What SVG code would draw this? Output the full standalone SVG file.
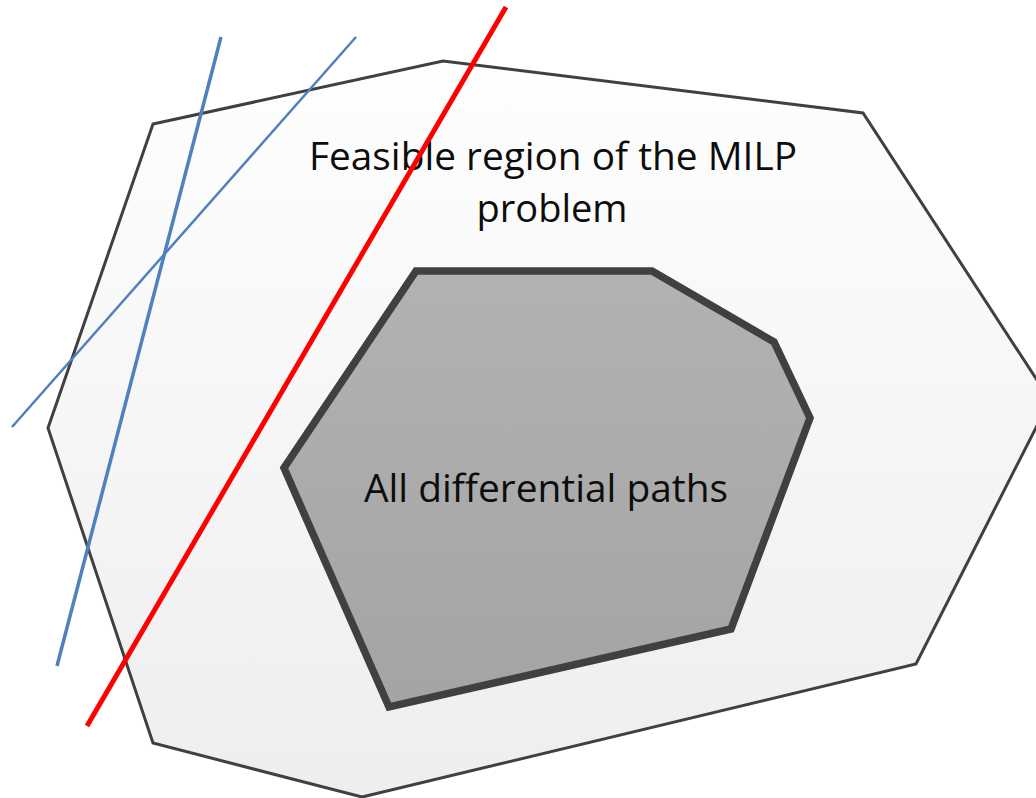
<svg xmlns="http://www.w3.org/2000/svg" width="1036" height="798" viewBox="0 0 1036 798">
<defs>
<linearGradient id="gOuter" x1="0" y1="0" x2="0" y2="1"><stop offset="0" stop-color="#fefefe"/><stop offset="1" stop-color="#eeeeee"/></linearGradient>
<linearGradient id="gInner" x1="0" y1="0" x2="0" y2="1"><stop offset="0" stop-color="#b2b2b2"/><stop offset="1" stop-color="#a4a4a4"/></linearGradient>
</defs>
<style>
.lbl{font-family:"Open Sans","Noto Sans","Liberation Sans",sans-serif;fill:#0d0d0d;text-anchor:middle}
.blue{stroke:#4f81bd;fill:none}
</style>
<rect width="1036" height="798" fill="#ffffff"/>
<g id="feasible-region">
<polygon points="153,124 443,61 863,113 1050,400 916,664 362,797 153,743 48,428" fill="url(#gOuter)" stroke="#404040" stroke-width="3" stroke-linejoin="miter"/>
<text class="lbl" x="553" y="170" font-size="38" textLength="488" lengthAdjust="spacingAndGlyphs">Feasible region of the MILP</text>
<text class="lbl" x="552" y="222" font-size="38" textLength="151" lengthAdjust="spacingAndGlyphs">problem</text>
</g>
<g id="differential-paths">
<polygon points="416,271 652,271 774,342 810,418 731,629 389,707 284,468" fill="url(#gInner)" stroke="#404040" stroke-width="7.5" stroke-linejoin="miter"/>
<text class="lbl" x="546" y="502" font-size="38" textLength="364" lengthAdjust="spacingAndGlyphs">All differential paths</text>
</g>
<g id="connectors">
<line class="blue" x1="221" y1="37" x2="57" y2="666" stroke-width="3.5"/>
<line class="blue" x1="356" y1="37" x2="12" y2="427" stroke-width="2.5"/>
<line x1="506" y1="7" x2="87" y2="726" stroke="#ff0000" stroke-width="5"/>
</g>
</svg>
